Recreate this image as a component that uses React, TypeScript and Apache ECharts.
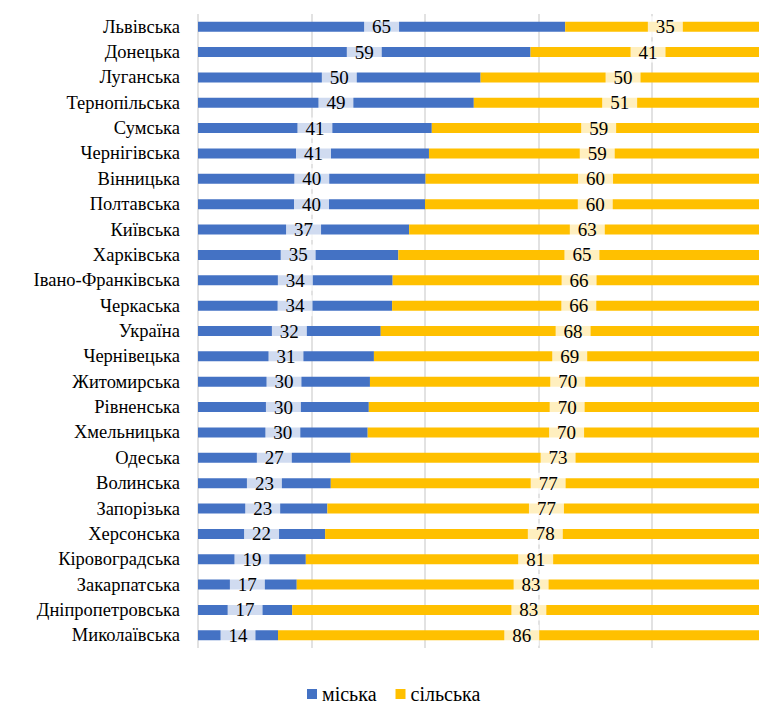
import React, { useEffect, useRef } from "react";
import * as echarts from "echarts";

const categories = [
  "Львівська", "Донецька", "Луганська", "Тернопільська", "Сумська", "Чернігівська",
  "Вінницька", "Полтавська", "Київська", "Харківська", "Івано-Франківська", "Черкаська",
  "Україна", "Чернівецька", "Житомирська", "Рівненська", "Хмельницька", "Одеська",
  "Волинська", "Запорізька", "Херсонська", "Кіровоградська", "Закарпатська",
  "Дніпропетровська", "Миколаївська",
];

const urban = [
  64.7, 58.6, 49.8, 48.6, 41.2, 40.7, 40.1, 40.0, 37.2, 35.3, 34.3, 34.2,
  32.2, 31.0, 30.3, 30.1, 29.9, 26.9, 23.4, 22.8, 22.4, 19.0, 17.4, 16.6, 14.1,
];

const rural = [
  35.3, 41.4, 50.2, 51.4, 58.8, 59.3, 59.9, 60.0, 62.8, 64.7, 65.7, 65.8,
  67.8, 69.0, 69.7, 69.9, 70.1, 73.1, 76.6, 77.2, 77.6, 81.0, 82.6, 83.4, 85.9,
];

const seriesNames = ["міська", "сільська"];

export default function App() {
  const ref = useRef<HTMLDivElement>(null);
  useEffect(() => {
    if (!ref.current) return;
    const chart = echarts.init(ref.current, null, { renderer: "svg" });
    const font = "Liberation Serif";
    const label = {
      show: true,
      position: "inside",
      color: "#000",
      fontSize: 19,
      fontFamily: font,
      backgroundColor: "rgba(255,255,255,0.75)",
      padding: [1, 8],
      formatter: (p: any) => String(Math.round(p.value)),
    };
    chart.setOption({
      animation: false,
      backgroundColor: "#fff",
      grid: {
        left: 198,
        top: 14,
        width: 567.5,
        height: 634,
        containLabel: false,
        outerBoundsMode: "none",
      },
      xAxis: {
        type: "value",
        min: 0,
        max: 100,
        interval: 20,
        axisLabel: { show: false },
        axisLine: { show: false },
        axisTick: { show: false },
        splitLine: { show: true, lineStyle: { color: "#d9d9d9", width: 1.5 } },
      },
      yAxis: {
        type: "category",
        data: categories,
        inverse: true,
        axisLine: { show: false },
        axisTick: { show: false },
        axisLabel: { color: "#000", fontSize: 18.5, fontFamily: font, margin: 18 },
      },
      legend: {
        data: seriesNames,
        left: 307,
        top: 684,
        padding: 0,
        icon: "rect",
        itemWidth: 10,
        itemHeight: 10,
        itemGap: 19,
        textStyle: { color: "#000", fontSize: 20, lineHeight: 20, fontFamily: font },
      },
      series: [
        {
          name: seriesNames[0],
          type: "bar",
          stack: "total",
          data: urban,
          barWidth: 10,
          itemStyle: { color: "#4472C4" },
          label,
        },
        {
          name: seriesNames[1],
          type: "bar",
          stack: "total",
          data: rural,
          barWidth: 10,
          itemStyle: { color: "#FFC000" },
          label,
        },
      ],
    });
    return () => chart.dispose();
  }, []);
  return (
    <div
      ref={ref}
      style={{ position: "fixed", left: 0, top: 0, width: 759, height: 705 }}
    />
  );
}
